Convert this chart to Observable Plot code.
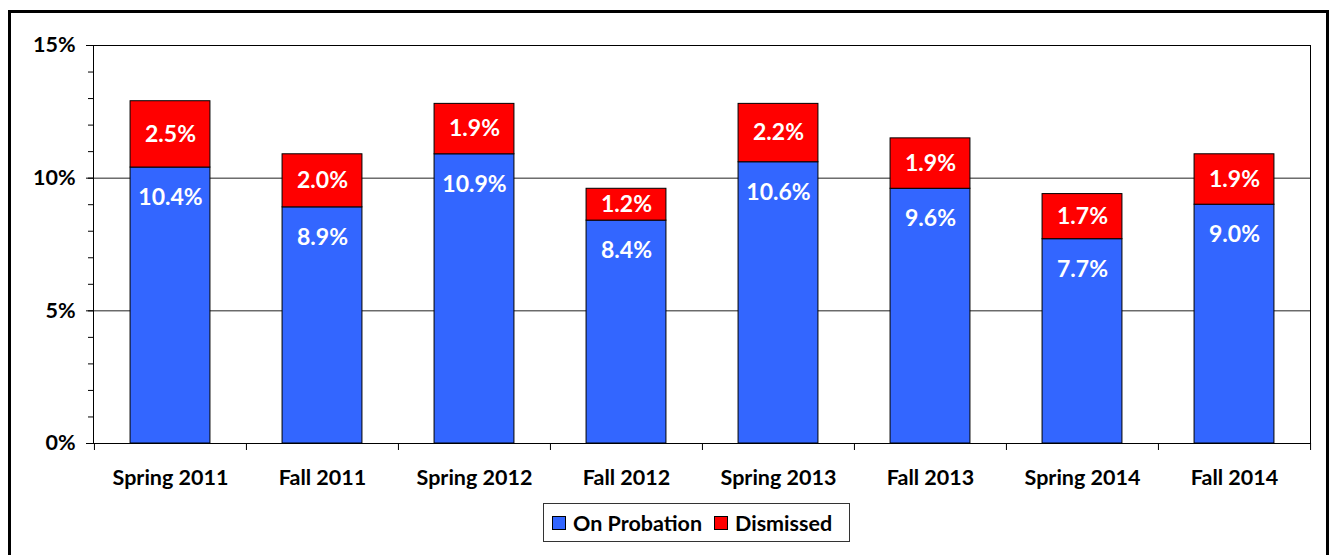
<!DOCTYPE html>
<html><head><meta charset="utf-8">
<script src="https://cdn.jsdelivr.net/npm/d3@7"></script>
<script src="https://cdn.jsdelivr.net/npm/@observablehq/plot@0.6"></script>
<style>
body{margin:0;background:#fff;font-family:Lato,sans-serif;}
#wrap{position:relative;width:1335px;height:555px;overflow:hidden;background:#fff}
#frame{position:absolute;left:8px;top:10px;width:1321px;height:600px;border:3px solid #000;box-sizing:border-box}
#chart{position:absolute;left:0;top:0}
#legend{position:absolute;left:543px;top:503px;width:307px;height:39px;border:1px solid #333;box-sizing:border-box;display:flex;align-items:center;padding-left:8px;font:bold 21.5px Lato,sans-serif;color:#000}
#legend .sw{display:inline-block;width:12px;height:12px;border:1px solid #000;margin-right:7px}
#legend .item{display:flex;align-items:center;margin-right:12px}
</style></head>
<body><div id="wrap"><div id="frame"></div><div id="chart"></div><div id="legend"></div></div>
<script>
const categories = ["Spring 2011","Fall 2011","Spring 2012","Fall 2012","Spring 2013","Fall 2013","Spring 2014","Fall 2014"];
const onProbation = [10.4, 8.9, 10.9, 8.4, 10.6, 9.6, 7.7, 9.0];
const dismissed = [2.5, 2.0, 1.9, 1.2, 2.2, 1.9, 1.7, 1.9];
const series = ["On Probation", "Dismissed"];
const colors = ["#3366FF", "#FF0000"];
const yTicks = [0, 5, 10, 15];
const yMinorTicks = [0,1,2,3,4,5,6,7,8,9,10,11,12,13,14,15];

const rows = categories.flatMap((c, i) => [
  {cat: c, series: series[0], value: onProbation[i]},
  {cat: c, series: series[1], value: dismissed[i]}
]);
const labels = categories.map((c, i) => ({cat: c, b: onProbation[i], r: dismissed[i], mid: onProbation[i] + dismissed[i] / 2}));

const W = 1335, H = 500, ML = 93, MR = 25, MT = 45, MB = 57;
const step = (W - ML - MR) / categories.length;
const barW = 80;
const inset = (step - barW) / 2;

const chart = Plot.plot({
  width: W, height: H,
  marginLeft: ML, marginRight: MR, marginTop: MT, marginBottom: MB,
  style: {fontFamily: "Lato, sans-serif", fontSize: "21.5px", fontWeight: "bold", color: "#000", background: "transparent"},
  x: {domain: categories, padding: 0, label: null},
  y: {domain: [0, 15], label: null},
  color: {domain: series, range: colors},
  marks: [
    Plot.gridY(yTicks, {stroke: "#222", strokeOpacity: 1}),
    Plot.barY(rows, {x: "cat", y: "value", fill: "series", stroke: "#000", strokeWidth: 1, insetLeft: inset, insetRight: inset}),
    Plot.frame({stroke: "#000"}),
    Plot.axisY({ticks: yMinorTicks, tickSize: 5, tickFormat: () => "", stroke: "#000", label: null}),
    Plot.axisY({ticks: yTicks, tickSize: 7, tickPadding: 11, tickFormat: d => d + "%", stroke: "#000", label: null}),
    Plot.axisX({tickSize: 7, tickFormat: () => "", dx: -step / 2, stroke: "#000", label: null}),
    Plot.axisX({ticks: [categories[categories.length - 1]], tickSize: 7, tickFormat: () => "", dx: step / 2, stroke: "#000", label: null}),
    Plot.axisX({tickSize: 0, tickPadding: 26, label: null}),
    Plot.text(labels, {x: "cat", y: "b", text: d => d.b.toFixed(1) + "%", dy: 30, fill: "white", fontSize: 23}),
    Plot.text(labels, {x: "cat", y: "mid", text: d => d.r.toFixed(1) + "%", fill: "white", fontSize: 23})
  ]
});
document.getElementById("chart").appendChild(chart);

const legend = document.getElementById("legend");
series.forEach((s, i) => {
  const item = document.createElement("span");
  item.className = "item";
  const sw = document.createElement("span");
  sw.className = "sw";
  sw.style.background = colors[i];
  item.appendChild(sw);
  item.appendChild(document.createTextNode(s));
  legend.appendChild(item);
});
</script></body></html>
